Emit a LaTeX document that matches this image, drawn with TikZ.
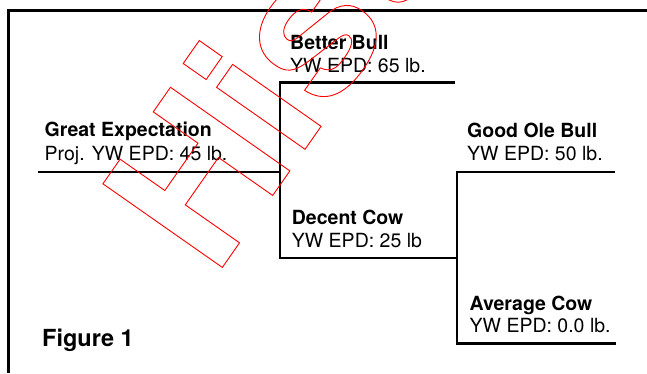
\documentclass[tikz,border=0pt]{standalone}
\usepackage{fontspec}
\setmainfont{TeX Gyre Heros}
\tikzset{
    animal/.style={anchor=base west, inner sep=0pt, font=\fontsize{19.5}{23}\selectfont\bfseries},
    epd/.style={anchor=base west, inner sep=0pt, font=\fontsize{19.5}{23}\selectfont},
    bracket/.style={line width=2.6pt},
}
\newcommand{\outlinetext}[1]{\special{pdf:literal direct 1 Tr 0.9 w}#1\special{pdf:literal direct 0 Tr}}
\begin{document}
\begin{tikzpicture}[x=1pt, y=-1pt]
    \useasboundingbox (0,0) rectangle (647,373);
    \draw[line width=2.4pt] (8.5,373) -- (8.5,10.5) -- (647,10.5);

    \coordinate (gel) at (38,172);
    \coordinate (ger) at (280,172);
    \coordinate (bbl) at (280,82.7);
    \coordinate (bbr) at (455,82.7);
    \coordinate (dcl) at (280,258);
    \coordinate (dcr) at (457,258);
    \coordinate (gobl) at (457,172);
    \coordinate (gobr) at (615,172);
    \coordinate (acl) at (457,343.3);
    \coordinate (acr) at (615.5,343.3);

    \draw[bracket] (gel) -- (ger);
    \draw[bracket] (bbr) -- (bbl) -- (dcl) -- (dcr);
    \draw[bracket] (gobr) -- (gobl) -- (acl) -- (acr);

    \node[animal] (ge) at (44.5,136.7) {Great Expectation};
    \node[epd] (gev) at (44.5,160.7) {Proj. YW EPD: 45 lb.};
    \node[animal] (bb) at (290,49) {Better Bull};
    \node[epd] (bbv) at (290,72.3) {YW EPD: 65 lb.};
    \node[animal] (dc) at (291.7,224) {Decent Cow};
    \node[epd] (dcv) at (291.7,247.3) {YW EPD: 25 lb};
    \node[animal] (gob) at (467,137) {Good Ole Bull};
    \node[epd] (gobv) at (467,160.7) {YW EPD: 50 lb.};
    \node[animal] (ac) at (469.5,310) {Average Cow};
    \node[epd] (acv) at (469.5,332.7) {YW EPD: 0.0 lb.};
    \node[anchor=base west, inner sep=0pt, font=\fontsize{23.5}{28}\selectfont\bfseries] (fig) at (42,346) {Figure 1};

    \node[anchor=base west, inner sep=0pt, rotate=55, text=red, font=\fontsize{200}{200}\selectfont\bfseries] (wm) at (214.4,278.7) {\outlinetext{Hist}};
\end{tikzpicture}
\end{document}
